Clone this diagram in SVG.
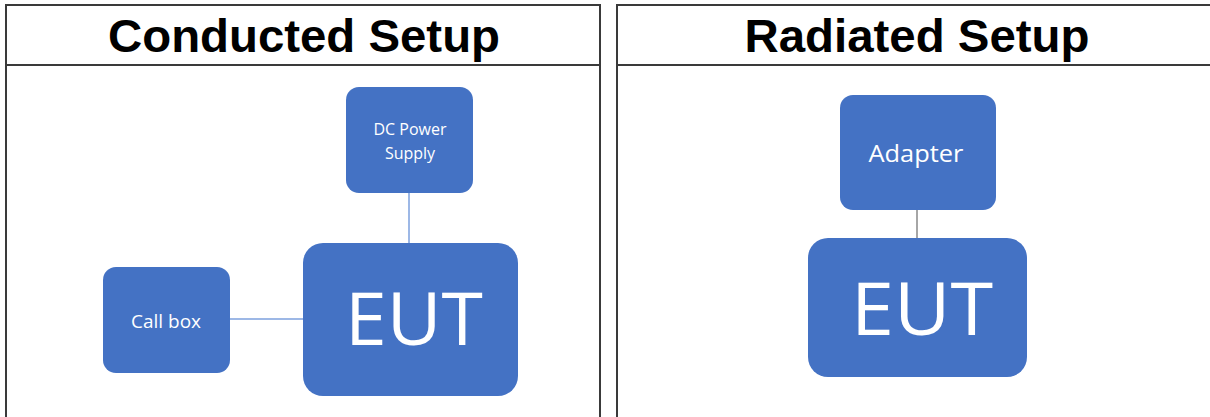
<svg xmlns="http://www.w3.org/2000/svg" width="1210" height="417" viewBox="0 0 1210 417">
<style>
.frame{fill:none;stroke:#3a3a3a;stroke-width:2}
.title{font-family:"Liberation Sans",Arial,sans-serif;font-weight:bold;font-size:47px;fill:#000;text-anchor:middle}
.box{fill:#4472C4}
.lbl{font-family:"Open Sans","Liberation Sans",sans-serif;fill:#fff;text-anchor:middle}
.conn{stroke:#9DB8E6;stroke-width:2;fill:none}
.conn2{stroke:#A6A6A6;stroke-width:2;fill:none}
</style>
<rect width="1210" height="417" fill="#fff"/>
<g id="panel-left">
<path class="frame" d="M6,417 V5 H600 V417 M6,65 H600"/>
<text class="title" x="304" y="52" textLength="392" lengthAdjust="spacingAndGlyphs">Conducted Setup</text>
</g>
<g id="panel-right">
<path class="frame" d="M617,417 V5 H1212 M617,65 H1212"/>
<text class="title" x="917" y="52" textLength="345" lengthAdjust="spacingAndGlyphs">Radiated Setup</text>
</g>
<g id="connectors">
<line class="conn" x1="409" y1="192" x2="409" y2="244"/>
<line class="conn" x1="230" y1="319" x2="304" y2="319"/>
<line class="conn2" x1="917" y1="209" x2="917" y2="239"/>
</g>
<g id="dc-power">
<rect class="box" x="346" y="87" width="127" height="106" rx="13"/>
<text class="lbl" x="410" y="135" font-size="16" textLength="73" lengthAdjust="spacingAndGlyphs">DC Power</text>
<text class="lbl" x="410" y="159" font-size="16">Supply</text>
</g>
<g id="call-box">
<rect class="box" x="103" y="267" width="127" height="106" rx="13"/>
<text class="lbl" x="166" y="328" font-size="19" textLength="70" lengthAdjust="spacingAndGlyphs">Call box</text>
</g>
<g id="eut-conducted">
<rect class="box" x="303" y="243" width="215" height="153" rx="20"/>
<text class="lbl" x="414" y="345" font-size="74" textLength="138" lengthAdjust="spacingAndGlyphs">EUT</text>
</g>
<g id="adapter">
<rect class="box" x="840" y="95" width="156" height="115" rx="13"/>
<text class="lbl" x="916" y="162" font-size="24" textLength="95" lengthAdjust="spacingAndGlyphs">Adapter</text>
</g>
<g id="eut-radiated">
<rect class="box" x="808" y="238" width="219" height="139" rx="20"/>
<text class="lbl" x="922" y="335" font-size="74" textLength="142" lengthAdjust="spacingAndGlyphs">EUT</text>
</g>
</svg>
